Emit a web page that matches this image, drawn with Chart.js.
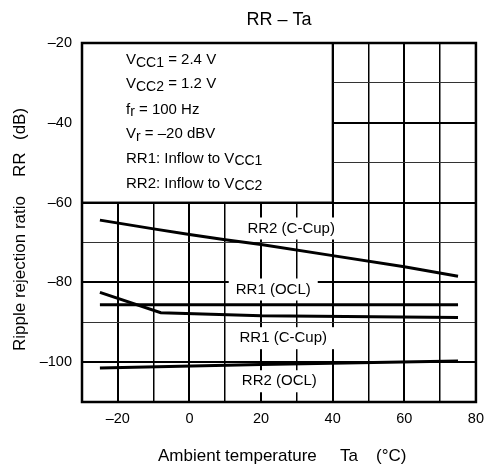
<!DOCTYPE html>
<html lang="en">
<head>
    <meta charset="UTF-8">
    <title>RR - Ta</title>
    <script src="https://cdn.jsdelivr.net/npm/chart.js"></script>
    <style>
        body { margin: 0; background: #fff; }
    </style>
</head>
<body>

<canvas id="rrChart" width="492" height="467"></canvas>

<script>
    // data (Ta in °C, RR in dB)
    const taRR2CCup = [-25, -10, 0, 10, 20, 40, 60, 75];
    const rr2CCup = [-64.4, -66.6, -68.0, -69.3, -70.5, -73.3, -76.1, -78.5];

    const taRR1OCL = [-25, 75];
    const rr1OCL = [-85.6, -85.6];

    const taRR1CCup = [-25, -8, 20, 75];
    const rr1CCup = [-82.5, -87.6, -88.4, -88.8];

    const taRR2OCL = [-25, 20, 75];
    const rr2OCL = [-101.5, -100.6, -99.7];

    const curveLabels = ['RR2 (C-Cup)', 'RR1 (OCL)', 'RR1 (C-Cup)', 'RR2 (OCL)'];
    const xTickLabels = [-20, 0, 20, 40, 60, 80];
    const yTickLabels = [-20, -40, -60, -80, -100];

    const FONT = '"Liberation Sans", Arial, sans-serif';

    function toPoints(xs, ys) {
        return xs.map((x, i) => ({ x: x, y: ys[i] }));
    }

    function dash(v) {
        return v < 0 ? '\u2013' + Math.abs(v) : String(v);
    }

    // text with subscripts: parts = [[text, isSub], ...]
    function drawRich(ctx, x, y, parts) {
        let cx = x;
        parts.forEach(([t, sub]) => {
            ctx.font = (sub ? '14px ' : '15px ') + FONT;
            ctx.fillText(t, cx, sub ? y + 3 : y);
            cx += ctx.measureText(t).width;
        });
    }

    const labelPos = [
        { x: 28.4, y: -66.5 },
        { x: 23.4, y: -81.8 },
        { x: 26.2, y: -94.0 },
        { x: 25.1, y: -104.8 },
    ];

    const decor = {
        id: 'decor',
        beforeDatasetsDraw(chart) {
            const { ctx, scales: { x, y } } = chart;
            ctx.save();
            // condition box
            const bx = x.getPixelForValue(-30), by = y.getPixelForValue(-20);
            const bw = x.getPixelForValue(40) - bx, bh = y.getPixelForValue(-60) - by;
            ctx.fillStyle = '#fff';
            ctx.fillRect(bx, by, bw, bh);
            ctx.strokeStyle = '#000';
            ctx.lineWidth = 2;
            ctx.strokeRect(bx, by, bw, bh);
            // white patches behind curve labels
            ctx.font = '15px ' + FONT;
            curveLabels.forEach((t, i) => {
                const w = ctx.measureText(t).width;
                const px = x.getPixelForValue(labelPos[i].x);
                const py = y.getPixelForValue(labelPos[i].y);
                ctx.fillRect(px - w / 2 - 7, py - 11, w + 14, 22);
            });
            ctx.restore();
        },
        afterDraw(chart) {
            const { ctx, chartArea: a, scales: { x, y } } = chart;
            ctx.save();
            ctx.fillStyle = '#000';
            ctx.textBaseline = 'middle';
            ctx.textAlign = 'center';
            ctx.font = '15px ' + FONT;
            curveLabels.forEach((t, i) => {
                ctx.fillText(t, x.getPixelForValue(labelPos[i].x), y.getPixelForValue(labelPos[i].y));
            });

            // conditions text
            ctx.textAlign = 'left';
            const rows = [
                [['V', 0], ['CC1', 1], [' = 2.4 V', 0]],
                [['V', 0], ['CC2', 1], [' = 1.2 V', 0]],
                [['f', 0], ['r', 1], [' = 100 Hz', 0]],
                [['V', 0], ['r', 1], [' = \u201320 dBV', 0]],
                [['RR1: Inflow to V', 0], ['CC1', 1]],
                [['RR2: Inflow to V', 0], ['CC2', 1]],
            ];
            const rowY = [60, 84, 109.5, 134, 158.5, 183.5];
            rows.forEach((r, i) => drawRich(ctx, 126, rowY[i], r));

            // chart title
            ctx.textAlign = 'center';
            ctx.font = '18px ' + FONT;
            ctx.fillText('RR \u2013 Ta', (a.left + a.right) / 2, 20);

            // x axis title
            ctx.textAlign = 'left';
            ctx.font = '17px ' + FONT;
            ctx.fillText('Ambient temperature', 158, 456);
            ctx.fillText('Ta', 340, 456);
            ctx.fillText('(\u00b0C)', 376, 456);

            // y axis title (rotated, reads bottom to top)
            ctx.translate(20, 0);
            ctx.rotate(-Math.PI / 2);
            ctx.fillText('Ripple rejection ratio', -351, 0);
            ctx.fillText('RR', -177, 0);
            ctx.fillText('(dB)', -140, 0);
            ctx.restore();

            // plot frame
            ctx.save();
            ctx.strokeStyle = '#000';
            ctx.lineWidth = 2.5;
            ctx.strokeRect(a.left, a.top, a.right - a.left, a.bottom - a.top);
            ctx.restore();
        },
    };

    const lineStyle = {
        borderColor: '#000',
        borderWidth: 3,
        pointRadius: 0,
        fill: false,
        tension: 0,
    };

    new Chart(document.getElementById('rrChart').getContext('2d'), {
        type: 'line',
        data: {
            datasets: [
                { label: curveLabels[0], data: toPoints(taRR2CCup, rr2CCup), ...lineStyle },
                { label: curveLabels[1], data: toPoints(taRR1OCL, rr1OCL), ...lineStyle },
                { label: curveLabels[2], data: toPoints(taRR1CCup, rr1CCup), ...lineStyle },
                { label: curveLabels[3], data: toPoints(taRR2OCL, rr2OCL), ...lineStyle },
            ],
        },
        options: {
            responsive: false,
            animation: false,
            layout: { padding: { top: 43, right: 10, left: 0, bottom: 0 } },
            plugins: {
                legend: { display: false },
                tooltip: { enabled: false },
            },
            scales: {
                x: {
                    type: 'linear',
                    min: -30,
                    max: 80,
                    afterFit: (s) => { s.height = 65; },
                    border: { display: false },
                    grid: {
                        drawTicks: false,
                        color: '#000',
                        lineWidth: (c) => (c.tick.value % 20 === 0 ? 2 : 1.5),
                    },
                    ticks: {
                        stepSize: 10,
                        padding: 8,
                        color: '#000',
                        font: { size: 14.5, family: FONT },
                        maxRotation: 0,
                        autoSkip: false,
                        callback: (v) => (xTickLabels.includes(v) ? dash(v) : ''),
                    },
                },
                y: {
                    min: -110,
                    max: -20,
                    afterFit: (s) => { s.width = 82; },
                    border: { display: false },
                    grid: {
                        drawTicks: false,
                        color: (c) => (c.tick.value % 20 === 0 ? '#000' : '#333'),
                        lineWidth: (c) => (c.tick.value % 20 === 0 ? 2 : 1),
                    },
                    ticks: {
                        stepSize: 10,
                        padding: 10,
                        color: '#000',
                        font: { size: 14.5, family: FONT },
                        autoSkip: false,
                        callback: (v) => (yTickLabels.includes(v) ? dash(v) : ''),
                    },
                },
            },
        },
        plugins: [decor],
    });
</script>

</body>
</html>
